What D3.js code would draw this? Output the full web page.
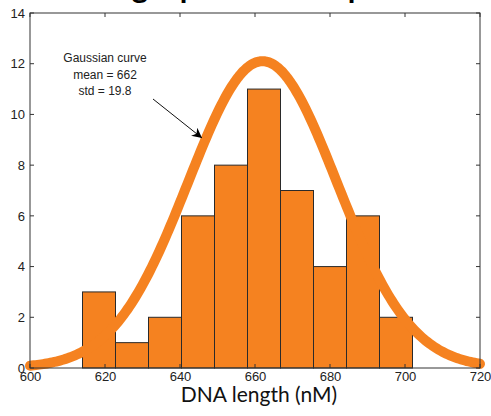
<!DOCTYPE html>
<html>
<head>
<meta charset="utf-8">
<script src="https://cdn.jsdelivr.net/npm/d3@7"></script>
<style>
  html, body { margin: 0; padding: 0; background: #fff; }
  svg { display: block; }
</style>
</head>
<body>
<svg id="chart" width="491" height="416"></svg>
<script>
// Histogram of measured DNA lengths (10 equal bins) with a fitted Gaussian
const binRange = [614, 702];
const counts = [3, 1, 2, 6, 8, 11, 7, 4, 6, 2];
const xTicks = [600, 620, 640, 660, 680, 700, 720];
const yTicks = [0, 2, 4, 6, 8, 10, 12, 14];
const gaussMean = 662;
const gaussStd = 19.8;
const gaussPeak = 12.1;
const noteLines = ["Gaussian curve", "mean = 662", "std = 19.8"];
const titleText = "Single plasmid sample";
const xLabel = "DNA length (nM)";

(function draw() {
  const orange = "#F58220";
  const frame = "#333";

  const svg = d3.select("#chart");
  const pL = 30, pR = 480, pT = 13, pB = 368;

  const x = d3.scaleLinear().domain([600, 720]).range([pL, pR]);
  const y = d3.scaleLinear().domain([0, 14]).range([pB, pT]);

  const binW = (binRange[1] - binRange[0]) / counts.length;
  const bins = counts.map((c, i) => ({ x0: binRange[0] + i * binW, x1: binRange[0] + (i + 1) * binW, n: c }));

  // title: a large bold heading whose body runs off the top edge
  const title = svg.append("text")
    .attr("x", 0).attr("y", -2.5)
    .attr("font-family", "Lato, 'Open Sans', sans-serif")
    .attr("font-weight", "bold")
    .attr("font-size", 34)
    .attr("fill", "#000")
    .text(titleText);
  {
    const node = title.node();
    const cx = i => { const r = node.getExtentOfChar(i); return r.x + r.width / 2; };
    const gi = titleText.indexOf("g");
    const p1 = titleText.indexOf("p");
    const p2 = titleText.lastIndexOf("p");
    const span = cx(p2) - cx(p1);
    if (span > 0) title.attr("font-size", 34 * 168 / span);
    title.attr("x", 140 - cx(gi));
  }

  // bars
  svg.append("g").selectAll("rect").data(bins).join("rect")
    .attr("x", d => x(d.x0))
    .attr("width", d => x(d.x1) - x(d.x0))
    .attr("y", d => y(d.n))
    .attr("height", d => y(0) - y(d.n))
    .attr("fill", orange)
    .attr("stroke", "#2a2a2a")
    .attr("stroke-width", 1);

  // gaussian curve from the stated mean / std
  const xs = d3.range(600, 720.01, 0.5);
  const curve = xs.map(v => [v, gaussPeak * Math.exp(-((v - gaussMean) ** 2) / (2 * gaussStd * gaussStd))]);
  svg.append("path")
    .datum(curve)
    .attr("d", d3.line().x(d => x(d[0])).y(d => y(d[1])))
    .attr("fill", "none")
    .attr("stroke", orange)
    .attr("stroke-width", 10)
    .attr("stroke-linecap", "round")
    .attr("stroke-linejoin", "round");

  // frame
  svg.append("rect")
    .attr("x", pL).attr("y", pT)
    .attr("width", pR - pL).attr("height", pB - pT)
    .attr("fill", "none").attr("stroke", frame).attr("stroke-width", 1);

  // axes with inward ticks on all four sides
  const tickFont = "'Liberation Sans', Arial, sans-serif";
  const gx = svg.append("g").attr("transform", `translate(0,${pB})`)
    .call(d3.axisBottom(x).tickValues(xTicks).tickSize(0).tickPadding(4).tickFormat(d3.format("d")));
  const gy = svg.append("g").attr("transform", `translate(${pL},0)`)
    .call(d3.axisLeft(y).tickValues(yTicks).tickSize(0).tickPadding(5).tickFormat(d3.format("d")));
  [gx, gy].forEach(g => {
    g.select(".domain").remove();
    g.selectAll("text").attr("font-family", tickFont).attr("font-size", 13).attr("fill", "#222");
  });

  const tickLen = 4;
  const tk = svg.append("g").attr("stroke", frame).attr("stroke-width", 1);
  xTicks.forEach(v => {
    tk.append("line").attr("x1", x(v)).attr("x2", x(v)).attr("y1", pT).attr("y2", pT + tickLen);
    tk.append("line").attr("x1", x(v)).attr("x2", x(v)).attr("y1", pB).attr("y2", pB - tickLen);
  });
  yTicks.forEach(v => {
    tk.append("line").attr("x1", pL).attr("x2", pL + tickLen).attr("y1", y(v)).attr("y2", y(v));
    tk.append("line").attr("x1", pR).attr("x2", pR - tickLen).attr("y1", y(v)).attr("y2", y(v));
  });

  // x axis title
  svg.append("text")
    .attr("x", 259).attr("y", 402)
    .attr("text-anchor", "middle")
    .attr("font-family", "Lato, 'Open Sans', sans-serif")
    .attr("font-size", 21)
    .attr("fill", "#111")
    .text(xLabel);

  // annotation with arrow
  const note = svg.append("text")
    .attr("text-anchor", "middle")
    .attr("font-family", tickFont)
    .attr("font-size", 12)
    .attr("fill", "#222");
  noteLines.forEach((t, i) => {
    note.append("tspan").attr("x", 105).attr("y", 62 + i * 16.5).text(t);
  });

  svg.append("defs").append("marker")
    .attr("id", "arrowhead")
    .attr("viewBox", "0 0 10 10")
    .attr("refX", 10).attr("refY", 5)
    .attr("markerWidth", 12).attr("markerHeight", 10)
    .attr("markerUnits", "userSpaceOnUse")
    .attr("orient", "auto")
    .append("path").attr("d", "M0,0 L10,5 L0,10 L3,5 Z").attr("fill", "#000");

  svg.append("line")
    .attr("x1", 153).attr("y1", 99)
    .attr("x2", 202).attr("y2", 138)
    .attr("stroke", "#111").attr("stroke-width", 1)
    .attr("marker-end", "url(#arrowhead)");
})();
</script>
</body>
</html>
